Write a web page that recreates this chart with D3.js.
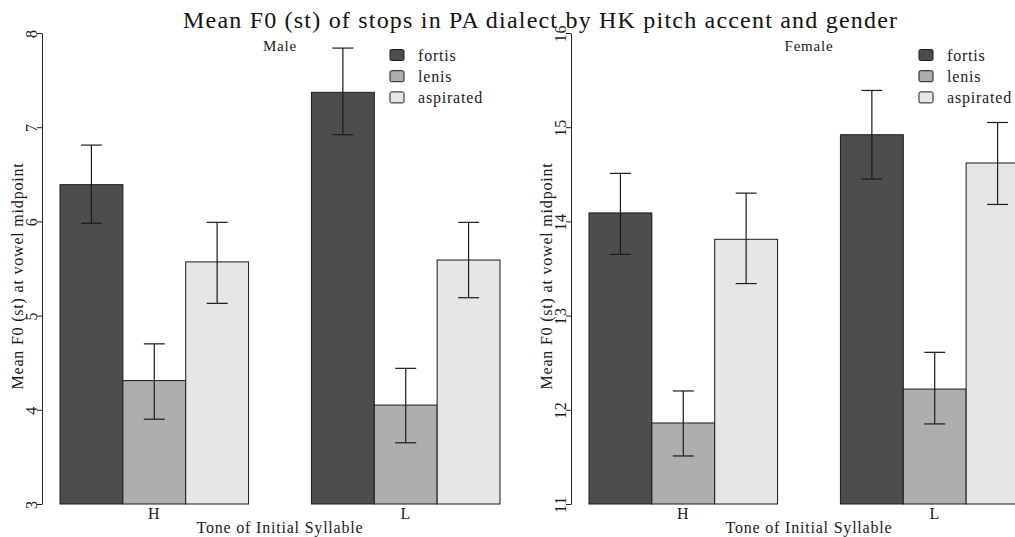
<!DOCTYPE html>
<html>
<head>
<meta charset="utf-8">
<script src="https://cdn.jsdelivr.net/npm/d3@7"></script>
<style>
  body { margin: 0; background: #fff; }
  svg { display: block; font-family: "Liberation Serif", "Times New Roman", serif; }
  .lab { letter-spacing: 0.8px; }
</style>
</head>
<body>
<div id="chart"></div>
<script>
var tones = ["H", "L"];
var stops = ["fortis", "lenis", "aspirated"];
var stopColors = ["#4d4d4d", "#aeaeae", "#e6e6e6"];

// means and error-bar ends, ordered H(fortis, lenis, aspirated), L(...)
var maleMean  = [6.39, 4.31, 5.57, 7.37, 4.05, 5.59];
var maleLow   = [5.98, 3.90, 5.13, 6.92, 3.65, 5.19];
var maleHigh  = [6.81, 4.70, 5.99, 7.84, 4.44, 5.99];

var femaleMean = [14.09, 11.86, 13.81, 14.92, 12.22, 14.62];
var femaleLow  = [13.65, 11.51, 13.34, 14.45, 11.85, 14.18];
var femaleHigh = [14.51, 12.20, 14.30, 15.39, 12.61, 15.05];

var maleTicks = [3, 4, 5, 6, 7, 8];
var femaleTicks = [11, 12, 13, 14, 15, 16];

var title = "Mean F0 (st) of stops in PA dialect by HK pitch accent and gender";
var yTitle = "Mean F0 (st) at vowel midpoint";
var xTitle = "Tone of Initial Syllable";

var width = 1015,
    height = 537,
    panelShift = 529;

var svg = d3.select("#chart").append("svg")
    .attr("width", width)
    .attr("height", height);

svg.append("text")
    .attr("x", 183)
    .attr("y", 28)
    .attr("textLength", 714)
    .attr("lengthAdjust", "spacing")
    .attr("fill", "#111")
    .style("font-size", "24px")
    .text(title);

function toRows(mean, low, high) {
    var rows = [];
    tones.forEach(function(t, i) {
        stops.forEach(function(s, j) {
            var k = i * stops.length + j;
            rows.push({tone: t, stop: s, mean: mean[k], low: low[k], high: high[k], color: stopColors[j]});
        });
    });
    return rows;
}

function drawPanel(name, rows, ticks, dx) {
    var g = svg.append("g").attr("transform", "translate(" + dx + ",0)");

    var xGroup = d3.scaleBand().domain(tones).range([60, 500]).paddingInner(0.25).paddingOuter(0);
    var xStop = d3.scaleBand().domain(stops).range([0, xGroup.bandwidth()]);
    var y = d3.scaleLinear().domain([ticks[0], ticks[ticks.length - 1]]).range([504, 33]);
    var capHalf = 10.5;

    // bars
    g.selectAll(".bar").data(rows).enter().append("rect")
        .attr("class", "bar")
        .attr("x", function(d) { return xGroup(d.tone) + xStop(d.stop); })
        .attr("width", xStop.bandwidth())
        .attr("y", function(d) { return y(d.mean); })
        .attr("height", function(d) { return y(ticks[0]) - y(d.mean); })
        .attr("fill", function(d) { return d.color; })
        .attr("stroke", "#1a1a1a")
        .attr("stroke-width", 1);

    // error bars
    var err = g.selectAll(".err").data(rows).enter().append("g")
        .attr("class", "err")
        .attr("stroke", "#1a1a1a")
        .attr("stroke-width", 1.2)
        .attr("transform", function(d) { return "translate(" + (xGroup(d.tone) + xStop(d.stop) + xStop.bandwidth() / 2) + ",0)"; });
    err.append("line")
        .attr("y1", function(d) { return y(d.low); })
        .attr("y2", function(d) { return y(d.high); });
    err.append("line")
        .attr("x1", -capHalf).attr("x2", capHalf)
        .attr("y1", function(d) { return y(d.high); })
        .attr("y2", function(d) { return y(d.high); });
    err.append("line")
        .attr("x1", -capHalf).attr("x2", capHalf)
        .attr("y1", function(d) { return y(d.low); })
        .attr("y2", function(d) { return y(d.low); });

    // y axis
    var axis = g.append("g")
        .attr("transform", "translate(42,0)")
        .call(d3.axisLeft(y).tickValues(ticks).tickSize(5).tickSizeOuter(0).tickFormat(d3.format("d")));
    axis.attr("font-family", null);
    axis.select(".domain").attr("stroke", "#222");
    axis.selectAll(".tick line").attr("stroke", "#222");
    axis.selectAll(".tick text")
        .attr("class", "lab")
        .attr("transform", "rotate(-90)")
        .attr("x", 0)
        .attr("y", -5)
        .attr("dy", 0)
        .attr("fill", "#1a1a1a")
        .style("text-anchor", "middle")
        .style("font-size", "16px");

    g.append("text")
        .attr("class", "lab")
        .attr("transform", "translate(23,276) rotate(-90)")
        .style("text-anchor", "middle")
        .style("font-size", "16px")
        .attr("fill", "#1a1a1a")
        .text(yTitle);

    // x labels
    g.selectAll(".xlab").data(tones).enter().append("text")
        .attr("class", "lab")
        .attr("x", function(d) { return xGroup(d) + xGroup.bandwidth() / 2; })
        .attr("y", 519)
        .style("text-anchor", "middle")
        .style("font-size", "16px")
        .attr("fill", "#1a1a1a")
        .text(function(d) { return d; });

    g.append("text")
        .attr("class", "lab")
        .attr("x", 280)
        .attr("y", 533)
        .style("text-anchor", "middle")
        .style("font-size", "16px")
        .attr("fill", "#1a1a1a")
        .text(xTitle);

    g.append("text")
        .attr("class", "lab")
        .attr("x", 280)
        .attr("y", 51)
        .style("text-anchor", "middle")
        .style("font-size", "15px")
        .attr("fill", "#1a1a1a")
        .text(name);

    // legend
    var leg = g.selectAll(".leg").data(stops).enter().append("g")
        .attr("class", "leg")
        .attr("transform", function(d, i) { return "translate(390," + (55 + i * 21.2) + ")"; });
    leg.append("rect")
        .attr("x", 0).attr("y", -5.5)
        .attr("width", 14).attr("height", 11)
        .attr("rx", 1.5)
        .attr("fill", function(d, i) { return stopColors[i]; })
        .attr("stroke", "#1a1a1a");
    leg.append("text")
        .attr("class", "lab")
        .attr("x", 28)
        .attr("y", 6)
        .style("font-size", "16px")
        .attr("fill", "#1a1a1a")
        .text(function(d) { return d; });
}

drawPanel("Male", toRows(maleMean, maleLow, maleHigh), maleTicks, 0);
drawPanel("Female", toRows(femaleMean, femaleLow, femaleHigh), femaleTicks, panelShift);
</script>
</body>
</html>
